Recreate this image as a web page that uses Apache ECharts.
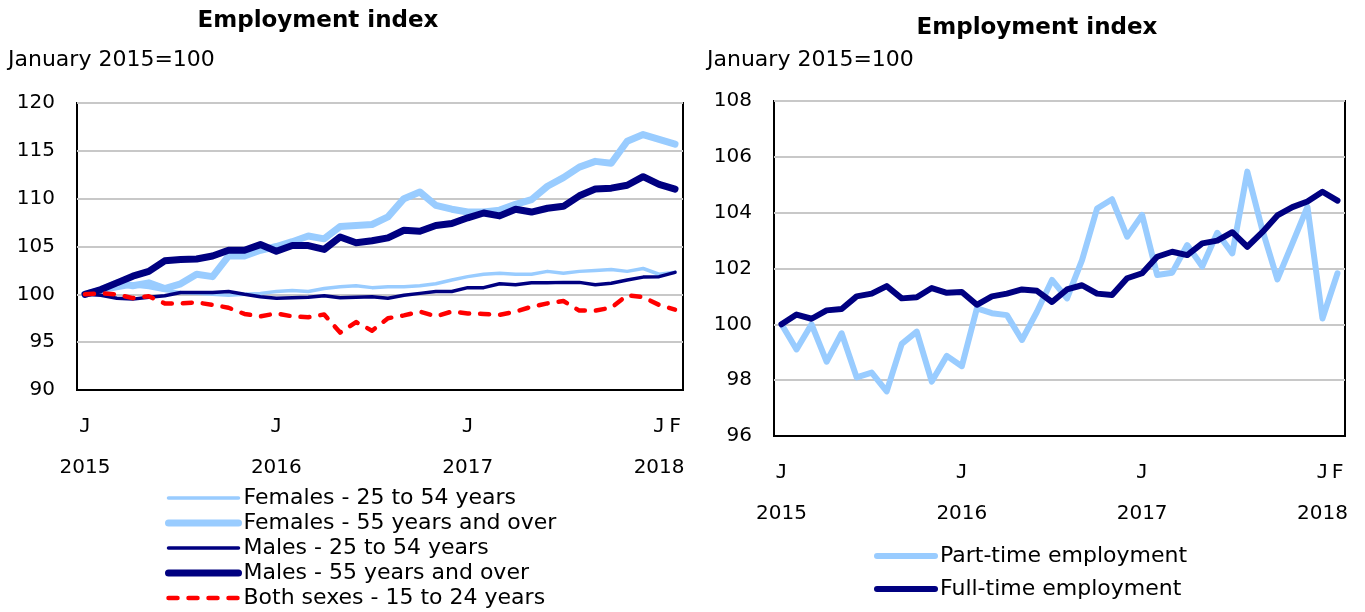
<!DOCTYPE html>
<html>
<head>
<meta charset="utf-8">
<title>Employment index</title>
<script src="https://cdn.jsdelivr.net/npm/echarts@6/dist/echarts.min.js"></script>
<style>
  html, body { margin: 0; padding: 0; background: #fff; }
  #chart { width: 1365px; height: 612px; }
</style>
</head>
<body>
<div id="chart"></div>
<script>
// months, January 2015 to February 2018
const months = [
  '2015-01','2015-02','2015-03','2015-04','2015-05','2015-06','2015-07','2015-08','2015-09','2015-10','2015-11','2015-12',
  '2016-01','2016-02','2016-03','2016-04','2016-05','2016-06','2016-07','2016-08','2016-09','2016-10','2016-11','2016-12',
  '2017-01','2017-02','2017-03','2017-04','2017-05','2017-06','2017-07','2017-08','2017-09','2017-10','2017-11','2017-12',
  '2018-01','2018-02'
];

// tick labels under the x axis
const monthTicks = { '2015-01': 'J', '2016-01': 'J', '2017-01': 'J', '2018-01': 'J', '2018-02': 'F' };
const yearTicks = { '2015-01': '2015', '2016-01': '2016', '2017-01': '2017', '2018-01': '2018' };

// left chart: by sex and age
const females25to54 = [100, 100.3, 100.6, 100.9, 100.7, 100.4, 100.2, 100.1, 100.0, 99.9, 100.0, 100.1,
  100.3, 100.4, 100.3, 100.6, 100.8, 100.9, 100.7, 100.8, 100.8, 100.9, 101.1, 101.5,
  101.85, 102.1, 102.2, 102.1, 102.1, 102.4, 102.2, 102.4, 102.5, 102.6, 102.4, 102.7,
  102.1, 102.3];
const females55over = [100, 100.45, 101.2, 100.9, 101.2, 100.6, 101.1, 102.1, 101.85, 104.0, 104.0, 104.6,
  105.0, 105.5, 106.1, 105.8, 107.1, 107.2, 107.3, 108.1, 110.0, 110.7, 109.3, 108.9,
  108.6, 108.6, 108.8, 109.4, 109.9, 111.3, 112.2, 113.3, 113.9, 113.7, 116.0, 116.7,
  116.2, 115.7];
const males25to54 = [100, 99.9, 99.6, 99.5, 99.7, 99.85, 100.2, 100.2, 100.2, 100.3, 100.0, 99.75,
  99.6, 99.65, 99.7, 99.85, 99.65, 99.7, 99.75, 99.6, 99.9, 100.1, 100.3, 100.3,
  100.7, 100.7, 101.1, 101.0, 101.2, 101.2, 101.25, 101.25, 101.0, 101.15, 101.5, 101.8,
  101.85, 102.3];
const males55over = [100, 100.5, 101.2, 101.9, 102.4, 103.5, 103.65, 103.7, 104.0, 104.6, 104.6, 105.2,
  104.5, 105.1, 105.1, 104.7, 106.0, 105.4, 105.6, 105.9, 106.7, 106.6, 107.2, 107.4,
  108.0, 108.5, 108.2, 108.9, 108.6, 109.0, 109.2, 110.3, 111.0, 111.1, 111.4, 112.3,
  111.5, 111.0];
const bothSexes15to24 = [100, 100.1, 100.0, 99.6, 99.8, 99.05, 99.05, 99.15, 98.9, 98.6, 97.95, 97.7,
  98.0, 97.7, 97.6, 97.9, 96.0, 97.1, 96.2, 97.5, 97.8, 98.2, 97.7, 98.2,
  98.0, 97.95, 97.85, 98.2, 98.7, 99.05, 99.3, 98.3, 98.3, 98.6, 99.9, 99.7,
  98.9, 98.4];

// right chart: part-time and full-time
const partTime = [100, 99.1, 100.0, 98.66, 99.68, 98.1, 98.27, 97.6, 99.3, 99.74, 97.95, 98.87,
  98.5, 100.57, 100.4, 100.33, 99.44, 100.45, 101.59, 100.93, 102.3, 104.15, 104.48, 103.14,
  103.92, 101.77, 101.85, 102.84, 102.07, 103.28, 102.54, 105.47, 103.38, 101.61, 102.9, 104.21,
  100.21, 101.83];
const fullTime = [100, 100.35, 100.2, 100.5, 100.55, 101.0, 101.1, 101.37, 100.93, 100.97, 101.3, 101.13,
  101.16, 100.7, 101.0, 101.1, 101.25, 101.2, 100.8, 101.25, 101.4, 101.1, 101.05, 101.65,
  101.83, 102.42, 102.6, 102.48, 102.9, 103.0, 103.3, 102.78, 103.3, 103.9, 104.2, 104.4,
  104.75, 104.43];

const LIGHT = '#99ccff';
const NAVY = '#000080';
const RED = '#ff0000';
const FONT = 'DejaVu Sans';

function xAxisFor(gridIndex) {
  return {
    type: 'category',
    gridIndex: gridIndex,
    data: months,
    boundaryGap: true,
    axisLine: { lineStyle: { color: '#000', width: 2 } },
    axisTick: { inside: true, interval: 0, length: 6, lineStyle: { color: '#000', width: 2 } },
    axisLabel: {
      interval: 0,
      margin: 16,
      formatter: function (v) {
        const m = monthTicks[v] || '';
        const y = yearTicks[v];
        if (!m) return '';
        return y ? '{m|' + m + '}\n{y|' + y + '}' : '{m|' + m + '}';
      },
      rich: {
        m: { fontFamily: 'DejaVu Sans Mono', fontSize: 20, lineHeight: 41, color: '#000' },
        y: { fontFamily: FONT, fontSize: 20, lineHeight: 42, color: '#000' }
      }
    },
    splitLine: { show: false }
  };
}

function yAxisFor(gridIndex, min, max, interval) {
  return {
    type: 'value',
    gridIndex: gridIndex,
    min: min,
    max: max,
    interval: interval,
    axisLine: { show: false },
    axisTick: { show: false },
    axisLabel: { margin: 22, fontFamily: FONT, fontSize: 20, color: '#000' },
    splitLine: { lineStyle: { color: '#c8c8c8', width: 2 } }
  };
}

function line(name, data, axis, color, width, type) {
  return {
    name: name,
    type: 'line',
    xAxisIndex: axis,
    yAxisIndex: axis,
    data: data,
    symbol: 'none',
    lineStyle: { color: color, width: width, type: type || 'solid', cap: 'round', join: 'round' },
    itemStyle: { color: color },
    emphasis: { disabled: true }
  };
}

const legendBase = {
  orient: 'vertical',
  selectedMode: false,
  padding: 0,
  height: 300,
  itemHeight: 14,
  textStyle: { fontFamily: FONT, fontSize: 22, lineHeight: 22, color: '#000' },
  itemStyle: { opacity: 0 },
  lineStyle: { width: 'inherit' }
};

const option = {
  animation: false,
  backgroundColor: '#fff',
  textStyle: { fontFamily: FONT },
  grid: [
    { left: 77, top: 103, width: 606, height: 287, show: true, borderColor: '#000', borderWidth: 2, backgroundColor: 'transparent' },
    { left: 774, top: 101, width: 571, height: 335, show: true, borderColor: '#000', borderWidth: 2, backgroundColor: 'transparent' }
  ],
  xAxis: [xAxisFor(0), xAxisFor(1)],
  yAxis: [yAxisFor(0, 90, 120, 5), yAxisFor(1, 96, 108, 2)],
  legend: [
    Object.assign({}, legendBase, {
      left: 165, top: 487, itemWidth: 70, itemGap: 3,
      data: ['Females - 25 to 54 years', 'Females - 55 years and over', 'Males - 25 to 54 years',
             'Males - 55 years and over', 'Both sexes - 15 to 24 years']
    }),
    Object.assign({}, legendBase, {
      left: 874, top: 545, itemWidth: 58, itemGap: 11,
      data: ['Part-time employment', 'Full-time employment']
    })
  ],
  graphic: [
    { type: 'text', x: 318, y: 21, style: { text: 'Employment index', font: 'bold 23px "DejaVu Sans"', fill: '#000', align: 'center', verticalAlign: 'middle' } },
    { type: 'text', x: 8, y: 60, style: { text: 'January 2015=100', font: '22px "DejaVu Sans"', fill: '#000', align: 'left', verticalAlign: 'middle' } },
    { type: 'text', x: 1037, y: 28, style: { text: 'Employment index', font: 'bold 23px "DejaVu Sans"', fill: '#000', align: 'center', verticalAlign: 'middle' } },
    { type: 'text', x: 707, y: 60, style: { text: 'January 2015=100', font: '22px "DejaVu Sans"', fill: '#000', align: 'left', verticalAlign: 'middle' } }
  ],
  series: [
    line('Females - 25 to 54 years', females25to54, 0, LIGHT, 3.5),
    line('Females - 55 years and over', females55over, 0, LIGHT, 7),
    line('Males - 25 to 54 years', males25to54, 0, NAVY, 3.5),
    line('Males - 55 years and over', males55over, 0, NAVY, 7),
    line('Both sexes - 15 to 24 years', bothSexes15to24, 0, RED, 4.5, [9, 11]),
    line('Part-time employment', partTime, 1, LIGHT, 6),
    line('Full-time employment', fullTime, 1, NAVY, 6)
  ]
};

const chart = echarts.init(document.getElementById('chart'));
chart.setOption(option);
</script>
</body>
</html>
